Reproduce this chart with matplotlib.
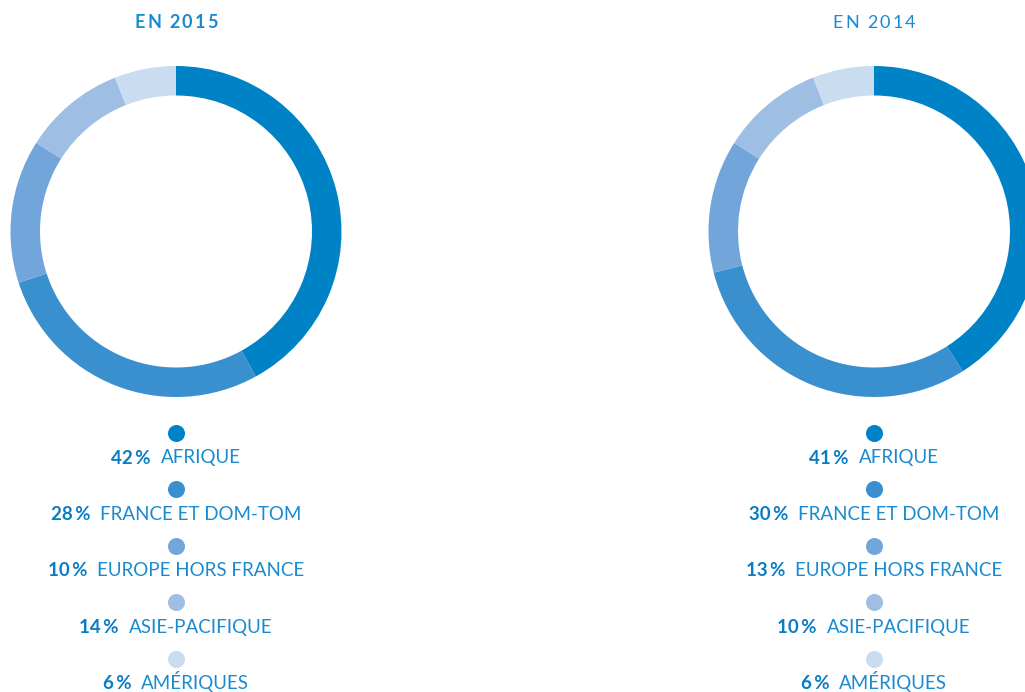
import matplotlib
matplotlib.use('Agg')
import matplotlib.pyplot as plt

# values (order: clockwise from 12 o'clock)
ring_2015 = [42, 28, 14, 10, 6]
ring_2014 = [41, 30, 13, 10, 6]

# legend text as printed
regions = ['AFRIQUE', 'FRANCE ET DOM-TOM', 'EUROPE HORS FRANCE',
           'ASIE-PACIFIQUE', 'AMÉRIQUES']
pct_2015 = [42, 28, 10, 14, 6]
pct_2014 = [41, 30, 13, 10, 6]

colors = ['#0082c6', '#3a8fce', '#72a6da', '#9fbee4', '#cadcf0']
text_blue = '#1a8ad0'
pct_blue = '#0a7cc3'

W, H = 1025, 692
R_OUT, R_IN = 165.5, 136
FONT = ['Lato', 'DejaVu Sans']


def draw_donut(ax, values, cx, cy):
    ax.pie(values, colors=colors, startangle=90, counterclock=False,
           center=(cx, H - cy), radius=R_OUT,
           wedgeprops=dict(width=R_OUT - R_IN, linewidth=0))


def text_width(ax, renderer, s, **kw):
    t = ax.text(0, 0, s, family=FONT, **kw)
    w = t.get_window_extent(renderer).width
    t.remove()
    return w


def spaced_title(ax, renderer, s, cx, base_y, weight, track=2.0):
    # letter-spaced title, centred on cx
    kw = dict(fontsize=13, fontweight=weight)
    xx = text_width(ax, renderer, 'xx', **kw)
    adv = [text_width(ax, renderer, 'x' + ch + 'x', **kw) - xx for ch in s]
    total = sum(adv) + track * (len(s) - 1)
    x = cx - total / 2
    for ch, a in zip(s, adv):
        ax.text(x, H - base_y, ch, color=text_blue, family=FONT,
                ha='left', va='baseline', **kw)
        x += a + track


def draw_legend(ax, renderer, pcts, cx, dot_y0, step):
    for i, (p, name) in enumerate(zip(pcts, regions)):
        dy = dot_y0 + i * step
        ax.scatter([cx], [H - dy], s=150, color=colors[i], linewidths=0,
                   zorder=3)
        ty = H - (dy + 30.5)
        t1 = ax.text(0, ty, '%d\u2009%%' % p, fontsize=13.5, fontweight='bold',
                     color=pct_blue, family=FONT, ha='left', va='baseline')
        t2 = ax.text(0, ty, name, fontsize=13.5, color=text_blue,
                     family=FONT, ha='left', va='baseline')
        w1 = t1.get_window_extent(renderer).width
        w2 = t2.get_window_extent(renderer).width
        gap = 10
        x0 = cx - (w1 + gap + w2) / 2
        t1.set_x(x0)
        t2.set_x(x0 + w1 + gap)


fig = plt.figure(figsize=(W / 100, H / 100), dpi=100)
ax = fig.add_axes([0, 0, 1, 1])

draw_donut(ax, ring_2015, 176, 231.5)
draw_donut(ax, ring_2014, 874, 231.5)

ax.set_xlim(0, W)
ax.set_ylim(0, H)
ax.set_aspect('auto')
ax.axis('off')

renderer = fig.canvas.get_renderer()
spaced_title(ax, renderer, 'EN 2015', 176, 27.5, 'bold')
spaced_title(ax, renderer, 'EN 2014', 874, 27.5, 'normal')

draw_legend(ax, renderer, pct_2015, 176, 433, 56.4)
draw_legend(ax, renderer, pct_2014, 874, 433, 56.4)

fig.savefig('out.png', dpi=100, facecolor='white')
